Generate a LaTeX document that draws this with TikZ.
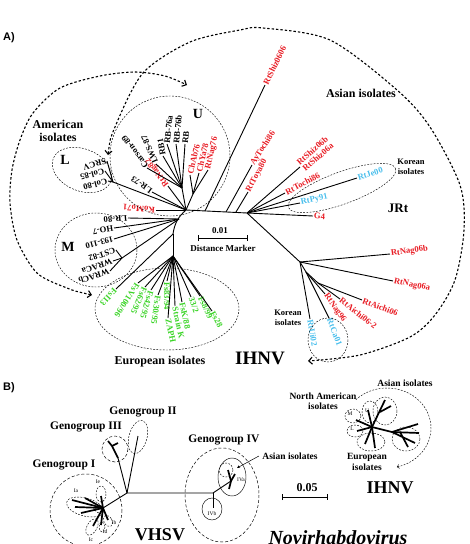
\documentclass[tikz,border=0pt]{standalone}
\usepackage{fontspec}
\setmainfont{Liberation Serif}
\newfontfamily\panelfont{Liberation Sans}
\usetikzlibrary{arrows.meta}
\usetikzlibrary{positioning}

\definecolor{asiared}{RGB}{232,28,36}
\definecolor{eurogreen}{RGB}{58,212,38}
\definecolor{koreablue}{RGB}{72,190,236}

\begin{document}
\begin{tikzpicture}[
        x=1pt, y=-1pt,
        branch/.style={line width=0.9pt},
        bush/.style={line width=1.7pt},
        leaf/.style={anchor=west, inner sep=0.8pt, font=\bfseries\fontsize{8.6}{8.8}\selectfont},
        red_leaf/.style={leaf, text=asiared},
        green_leaf/.style={leaf, text=eurogreen},
        blue_leaf/.style={leaf, text=koreablue},
        ring/.style={draw, line width=0.45pt, dash pattern=on 1.8pt off 1.4pt},
        wide_ring/.style={draw, line width=0.5pt, dash pattern=on 3pt off 2pt},
        solid_ring/.style={draw, line width=0.45pt},
        region_arc/.style={line width=1.1pt, dash pattern=on 2.4pt off 2pt, {Straight Barb[length=3.5pt,width=7pt]}-{Straight Barb[length=3.5pt,width=7pt]}},
        group_label/.style={font=\bfseries\fontsize{12}{12.5}\selectfont, align=center},
        geno_label/.style={font=\bfseries\fontsize{11.5}{12}\selectfont},
        clade_label/.style={font=\bfseries\fontsize{14}{14}\selectfont},
        small_label/.style={font=\bfseries\fontsize{8.5}{9.5}\selectfont, align=center},
        mid_label/.style={font=\bfseries\fontsize{9.5}{10.5}\selectfont, align=center},
        tiny_label/.style={font=\fontsize{5.5}{6}\selectfont, inner sep=0pt},
        virus_label/.style={font=\bfseries\fontsize{18}{18}\selectfont},
        panel_label/.style={font=\panelfont\bfseries\fontsize{11}{11}\selectfont},
        scale_bar/.style={line width=0.9pt, {Bar[width=6pt]}-{Bar[width=6pt]}}
    ]
    \useasboundingbox (0,0) rectangle (469,544);

    % Panel labels
    \node[panel_label] (panel_a) at (9,38) {A)};
    \node[panel_label] (panel_b) at (9,388) {B)};

    % ---------------- A) IHNV tree ----------------
    \coordinate (hub_top) at (186,210);
    \coordinate (hub_mid) at (179,219);
    \coordinate (hub_bot) at (173,234);
    \coordinate (shiz_fork) at (205,211);
    \coordinate (toya_fork) at (236,212);
    \coordinate (tochi_fork) at (226,212);
    \coordinate (jrt) at (247,213);
    \coordinate (nag_fork) at (300,262);
    \coordinate (ca_fork) at (306,272);
    \coordinate (aichi_fork) at (318,283);
    \coordinate (u_fork) at (182,188);
    \coordinate (ured_fork) at (193,194);
    \coordinate (l_fork) at (113,182);
    \coordinate (m_fork) at (122,258);
    \coordinate (eu_fork) at (173,256);

    \draw[branch] (hub_top) to[bend right=20] (hub_bot);
    \draw[branch] (hub_top) -- (jrt);
    \draw[branch] (jrt) -- (nag_fork) -- (ca_fork) -- (aichi_fork);
    \draw[branch] (hub_top) -- (u_fork);
    \draw[branch] (hub_top) -- (ured_fork);
    \draw[branch] (hub_top) -- (l_fork);
    \draw[branch] (hub_mid) -- (m_fork);
    \draw[branch] (hub_bot) -- (eu_fork);

    % Asian leaves
    \node[red_leaf, rotate=64] (shiz0606) at (265,85) {RtShiz0606}; \draw[branch] (shiz_fork) -- (shiz0606.west);
    \node[red_leaf, rotate=57] (aytochi86) at (252,165) {AyTochi86}; \draw[branch] (tochi_fork) -- (aytochi86.west);
    \node[red_leaf, rotate=62] (toya80) at (248,192) {RtToya80}; \draw[branch] (toya_fork) -- (toya80.west);
    \node[red_leaf, rotate=28] (tochi86) at (285,193) {RtTochi86}; \draw[branch] (jrt) -- (tochi86.west);
    \node[red_leaf, rotate=41, align=left] (shiz06) at (300,167) {RtShiz06b\\RtShiz06a}; \draw[branch] (jrt) -- (shiz06.west);
    \node[blue_leaf, rotate=18] (je00) at (357,178) {RtJe00}; \draw[branch] (jrt) -- (je00.west);
    \node[blue_leaf, rotate=12] (py91) at (300,203) {RtPy91}; \draw[branch] (jrt) -- (py91.west);
    \node[red_leaf, rotate=-3] (g4) at (313,216) {G4}; \draw[branch] (jrt) -- (g4.west);
    \node[red_leaf, rotate=8] (nag06b) at (390,254) {RtNag06b}; \draw[branch] (nag_fork) -- (nag06b.west);
    \node[red_leaf, rotate=-12] (nag06a) at (393,281) {RtNag06a}; \draw[branch] (nag_fork) -- (nag06a.west);
    \node[red_leaf, rotate=-21] (aichi06) at (362,300) {RtAichi06}; \draw[branch] (aichi_fork) -- (aichi06.west);
    \node[red_leaf, rotate=-38] (aichi062) at (340,299) {RtAichi06-2}; \draw[branch] (aichi_fork) -- (aichi062.west);
    \node[red_leaf, rotate=-55] (nag96) at (325,294) {RtNag96}; \draw[branch] (ca_fork) -- (nag96.west);
    \node[blue_leaf, rotate=-68] (ca01) at (329,318) {RtCa01}; \draw[branch] (ca_fork) -- (ca01.west);
    \node[blue_leaf, rotate=-80] (ui02) at (310,319) {RtUi02}; \draw[branch] (nag_fork) -- (ui02.west);

    % U, L and M leaves
    \node[red_leaf, rotate=175] (komo71) at (156,210) {KoMo71}; \draw[branch] (hub_top) -- (komo71.west);
    \node[leaf, rotate=145] (lr73) at (152,192) {LR-73}; \draw[branch] (hub_top) -- (lr73.west);
    \node[red_leaf, rotate=128] (nag82) at (168,186) {RtNag82}; \draw[branch] (hub_top) -- (nag82.west);
    \node[leaf, rotate=127] (carson89) at (147,168) {Carson-89}; \draw[branch] (u_fork) -- (carson89.west);
    \node[leaf, rotate=114] (lws87) at (156,164) {LWS-87}; \draw[branch] (u_fork) -- (lws87.west);
    \node[leaf, rotate=100] (rb1) at (163,156) {RB1}; \draw[branch] (u_fork) -- (rb1.west);
    \node[leaf, rotate=84] (rb76a) at (167,144) {RB-76a}; \draw[branch] (u_fork) -- (rb76a.west);
    \node[leaf, rotate=84] (rb76b) at (176,144) {RB-76b}; \draw[branch] (u_fork) -- (rb76b.west);
    \node[leaf, rotate=84] (rb) at (185,144) {RB}; \draw[branch] (u_fork) -- (rb.west);
    \node[red_leaf, rotate=77] (chab76) at (190,175) {ChAb76}; \draw[branch] (ured_fork) -- (chab76.west);
    \node[red_leaf, rotate=77] (chya78) at (199,173) {ChYa78}; \draw[branch] (ured_fork) -- (chya78.west);
    \node[red_leaf, rotate=77] (nag76) at (208,170) {RtNag76}; \draw[branch] (ured_fork) -- (nag76.west);
    \node[leaf, rotate=195] (srcv) at (107,161) {SRCV}; \draw[branch] (l_fork) -- (srcv.west);
    \node[leaf, rotate=195] (col85) at (105,171) {Col-85}; \draw[branch] (l_fork) -- (col85.west);
    \node[leaf, rotate=195] (col80) at (108,181) {Col-80}; \draw[branch] (l_fork) -- (col80.west);
    \node[leaf, rotate=185] (lr80) at (128,218) {LR-80}; \draw[branch] (hub_mid) -- (lr80.west);
    \node[leaf, rotate=190] (ho7) at (114,228) {HO-7}; \draw[branch] (hub_mid) -- (ho7.west);
    \node[leaf, rotate=194] (s193) at (114,239) {193-110}; \draw[branch] (hub_mid) -- (s193.west);
    \node[leaf, rotate=198] (cst82) at (116,250) {CST-82}; \draw[branch] (m_fork) -- (cst82.west);
    \node[leaf, rotate=198] (wraca) at (113,261) {WRACa}; \draw[branch] (m_fork) -- (wraca.west);
    \node[leaf, rotate=198] (wracb) at (110,271) {WRACb}; \draw[branch] (m_fork) -- (wracb.west);

    % European leaves
    \node[green_leaf, rotate=228] (fsi13) at (116,289) {FsI13}; \draw[branch] (hub_bot) -- (fsi13.west);
    \node[green_leaf, rotate=237] (fsv100) at (138,283) {FsV100/96}; \draw[branch] (eu_fork) -- (fsv100.west);
    \node[green_leaf, rotate=246] (fs62) at (145,287) {Fs62/95}; \draw[branch] (eu_fork) -- (fs62.west);
    \node[green_leaf, rotate=254] (fs42) at (151,290) {Fs42/95}; \draw[branch] (eu_fork) -- (fs42.west);
    \node[green_leaf, rotate=262] (fs30) at (158,295) {Fs30/95}; \draw[branch] (eu_fork) -- (fs30.west);
    \node[green_leaf, rotate=270] (fs83) at (167,281) {Fs83/94}; \draw[branch] (eu_fork) -- (fs83.west);
    \node[green_leaf, rotate=282] (fsk88) at (182,302) {FsK/88}; \draw[branch] (eu_fork) -- (fsk88.west);
    \node[green_leaf, rotate=282] (straink) at (175,306) {Strain K}; \draw[branch] (eu_fork) -- (straink.west);
    \node[green_leaf, rotate=282] (zaph) at (168,318) {ZAPH}; \draw[branch] (eu_fork) -- (zaph.west);
    \node[green_leaf, rotate=290] (s332) at (191,297) {33/2}; \draw[branch] (eu_fork) -- (s332.west);
    \node[green_leaf, rotate=295] (fs899) at (200,296) {Fs8/99}; \draw[branch] (eu_fork) -- (fs899.west);
    \node[green_leaf, rotate=298] (fs28) at (212,311) {Fs28}; \draw[branch] (eu_fork) -- (fs28.west);

    % Group rings
    \draw[ring] (170,156) circle (60);
    \draw[ring, rotate around={-22:(82,170)}] (82,170) ellipse (31 and 21);
    \draw[ring] (96,250) ellipse (41 and 37);
    \draw[ring] (167,309) ellipse (72 and 41);
    \draw[ring, rotate around={20:(342,188)}] (342,188) ellipse (57 and 16);
    \draw[ring] (328,340) ellipse (20 and 22);

    % Region arcs
    \draw[region_arc] plot[smooth] coordinates {(108,155) (115,127) (143,73) (190,42) (240,30) (263,28) (330,40) (397,90) (430,127) (460,185) (464,230) (455,280) (435,315) (410,337) (360,355) (308,361)};
    \draw[region_arc] plot[smooth] coordinates {(92,295) (67,288) (37,273) (17,240) (10,203) (12,170) (20,140) (33,113) (60,88) (100,76) (135,72) (165,76) (187,85)};

    % Group names
    \node[group_label] (american) at (58,131) {American\\isolates};
    \node[group_label] (asian) at (361,93) {Asian isolates};
    \node[group_label] (european) at (160,362) {European isolates};
    \node[clade_label] (u_name) at (198,114) {U};
    \node[clade_label] (l_name) at (65,160) {L};
    \node[clade_label] (m_name) at (68,247) {M};
    \node[font=\bfseries\fontsize{13}{13}\selectfont] (jrt_name) at (398,208) {JRt};
    \node[small_label] (korea_top) at (411,167) {Korean\\isolates};
    \node[small_label] (korea_bot) at (288,318) {Korean\\isolates};
    \node[font=\bfseries\fontsize{19}{19}\selectfont] (ihnv_a) at (260,358) {IHNV};

    % Distance marker
    \coordinate (bar_a_l) at (198,238);
    \coordinate (bar_a_r) at (248,238);
    \draw[scale_bar] (bar_a_l) -- (bar_a_r);
    \node[font=\bfseries\fontsize{9}{9}\selectfont] (bar_a_txt) at (220,231) {0.01};
    \node[font=\bfseries\fontsize{9}{9}\selectfont] (marker_txt) at (223,248) {Distance Marker};

    % ---------------- B) Novirhabdovirus tree ----------------
    \coordinate (vhsv_c) at (127,493);
    \coordinate (g4_fork) at (213,493);
    \coordinate (g2_tip) at (138,436);
    \coordinate (g3_fork) at (118,458);
    \coordinate (g1_fork) at (103,508);
    \coordinate (ivb_tip) at (213,508);
    \coordinate (iva_fork) at (231,481);
    \draw[branch] (g1_fork) -- (vhsv_c) -- (g4_fork);
    \draw[branch] (vhsv_c) -- (g2_tip);
    \draw[branch] (vhsv_c) -- (g3_fork);
    \draw[branch] (g4_fork) -- (ivb_tip);
    \draw[branch] (g4_fork) -- (iva_fork);

    % bushes
    \draw[bush] (g3_fork) -- (112,446) -- (108,441);
    \draw[bush] (112,446) -- (118,443);
    \draw[bush] (g1_fork) -- (72,500);
    \draw[bush] (g1_fork) -- (75,507);
    \draw[bush] (g1_fork) -- (81,513);
    \draw[bush] (g1_fork) -- (85,498);
    \draw[bush] (g1_fork) -- (101,496);
    \draw[bush] (g1_fork) -- (93,526);
    \draw[bush] (g1_fork) -- (101,525);
    \draw[bush] (g1_fork) -- (108,520);
    \draw[bush] (iva_fork) -- (228,470);
    \draw[bush] (iva_fork) -- (235,474);
    \draw[bush] (iva_fork) -- (229,489);

    % VHSV rings
    \draw[ring, rotate around={-15:(138,437)}] (138,437) ellipse (9 and 17);
    \draw[wide_ring] (115,449) circle (13);
    \draw[wide_ring] (86,510) circle (36);
    \draw[ring, rotate around={-15:(85,507)}] (85,507) ellipse (19 and 9);
    \draw[ring] (101,494) ellipse (5 and 8);
    \draw[ring, rotate around={30:(108,521)}] (108,521) ellipse (4 and 6);
    \draw[ring] (102,527) ellipse (3 and 5);
    \draw[ring, rotate around={-30:(92,527)}] (92,527) ellipse (5 and 9);
    \draw[ring] (99,509) circle (4);
    \draw[wide_ring] (222,495) ellipse (37 and 47);
    \draw[solid_ring] (212,509) ellipse (10 and 11);
    \draw[solid_ring] (232,477) ellipse (14 and 19);
    \draw[ring] (226,470) circle (7);

    \node[tiny_label] (ia) at (76,491) {Ia};
    \node[tiny_label] (ie) at (98,482) {Ie};
    \node[tiny_label] (ib) at (114,523) {Ib};
    \node[tiny_label] (id) at (105,532) {Id};
    \node[tiny_label] (ic) at (91,540) {Ic};
    \node[tiny_label] (ivb) at (212,514) {IVb};
    \node[tiny_label] (iva) at (241,480) {IVa};

    \node[geno_label] (geno2) at (143,412) {Genogroup II};
    \node[geno_label] (geno3) at (86,427) {Genogroup III};
    \node[geno_label] (geno1) at (64,465) {Genogroup I};
    \node[geno_label] (geno4) at (224,440) {Genogroup IV};
    \node[font=\bfseries\fontsize{9.5}{10}\selectfont] (asian_b) at (290,456) {Asian isolates};
    \draw[-{Stealth[length=3pt,width=3pt]}, line width=0.5pt] (asian_b.west) -- (237,468);
    \node[virus_label] (vhsv) at (160,535) {VHSV};

    % scale bar B
    \coordinate (bar_b_l) at (282,497);
    \coordinate (bar_b_r) at (328,497);
    \draw[scale_bar] (bar_b_l) -- (bar_b_r);
    \node[font=\bfseries\fontsize{12}{12}\selectfont] (bar_b_txt) at (307,488) {0.05};
    \node[virus_label] (ihnv_b) at (390,488) {IHNV};
    \node[font=\bfseries\itshape\fontsize{20}{20}\selectfont] (genus) at (338,538) {Novirhabdovirus};

    % small IHNV tree
    \coordinate (mini_c) at (372,427);
    \coordinate (mini_j) at (392,432);
    \draw[bush] (mini_c) -- (385,400);
    \draw[bush] (380,412) -- (391,406);
    \draw[bush] (mini_c) -- (mini_j) -- (418,424);
    \draw[bush] (mini_j) -- (419,433);
    \draw[bush] (mini_j) -- (415,443);
    \draw[bush] (400,432) -- (408,447);
    \draw[bush] (mini_c) -- (356,420);
    \draw[bush] (mini_c) -- (357,431);
    \draw[bush] (mini_c) -- (365,444);
    \draw[bush] (mini_c) -- (375,448);
    \draw[bush] (mini_c) -- (368,410);
    \draw[ring] (370,412) ellipse (8 and 11);
    \draw[ring] (353,416) ellipse (8 and 7);
    \draw[ring] (355,431) ellipse (8 and 6);
    \draw[ring] (371,442) ellipse (14 and 9);
    \draw[ring] (406,439) ellipse (14 and 12);
    \draw[ring] (385,411) ellipse (12 and 14);
    \draw[ring, -{Straight Barb[length=2pt,width=4pt]}] plot[smooth, domain=225:437, samples=40] ({387+44*cos(\x)}, {428+40*sin(\x)});
    \node[tiny_label] (mini_u) at (367,411) {U};
    \node[tiny_label] (mini_m) at (350,414) {M};
    \node[tiny_label] (mini_l) at (352,429) {L};
    \node[mid_label] (mini_asian) at (405,383) {Asian isolates};
    \node[mid_label] (mini_amer) at (323,401) {North American\\isolates};
    \node[mid_label] (mini_euro) at (367,462) {European\\isolates};

\end{tikzpicture}
\end{document}
